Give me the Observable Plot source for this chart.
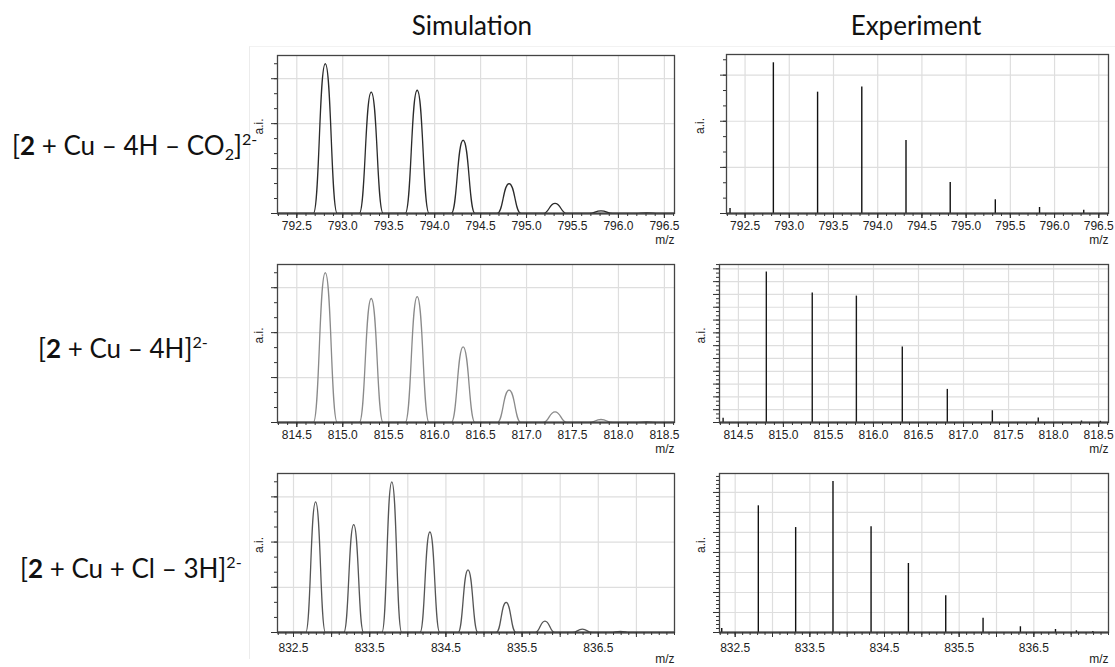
<!DOCTYPE html>
<html>
<head>
<meta charset="utf-8">
<script src="https://cdn.jsdelivr.net/npm/d3@7"></script>
<script src="https://cdn.jsdelivr.net/npm/@observablehq/plot@0.6"></script>
<style>
  html, body { margin: 0; padding: 0; background: #fff; }
  #root { position: relative; width: 1115px; height: 667px; overflow: hidden; background: #fff; }
  .ttl, .rowlab { position: absolute; font-family: Lato, "Open Sans", sans-serif; font-size: 26px; line-height: 26px; color: #111; white-space: nowrap; }
  .ttl { transform: translateX(-50%); }
  .rowlab b { font-weight: 700; }
  .rowlab sup { font-size: 0.62em; position: relative; top: -0.62em; vertical-align: baseline; }
  .rowlab sub { font-size: 0.62em; position: relative; top: 0.32em; vertical-align: baseline; }
  .pnl { position: absolute; }
  .insert { position: absolute; left: 249px; top: 46px; width: 866px; height: 612px; border-left: 1px solid #ececec; border-top: 1px solid #f2f2f2; }
</style>
</head>
<body>
<div id="root"><div class="insert"></div></div>
<script>
// ---------- text ----------
const columnTitles = ["Simulation", "Experiment"];
const rowLabels = [
  '[<b>2</b> + Cu – 4H – CO<sub>2</sub>]<sup>2-</sup>',
  '[<b>2</b> + Cu – 4H]<sup>2-</sup>',
  '[<b>2</b> + Cu + Cl – 3H]<sup>2-</sup>'
];
const xAxisLabel = "m/z";
const yAxisLabel = "a.i.";

// ---------- row 1 : [2 + Cu – 4H – CO2]2- ----------
const row1Domain = [792.29, 796.61];
const row1TickLabels = [792.5, 793.0, 793.5, 794.0, 794.5, 795.0, 795.5, 796.0, 796.5];
const row1SimMz = [792.81, 793.31, 793.81, 794.31, 794.81, 795.31, 795.81, 796.31];
const row1SimIntensity = [100, 81, 82.3, 48.9, 20, 6.7, 1.8, 0.4];
const row1ExpMz = [792.33, 792.82, 793.32, 793.82, 794.32, 794.82, 795.33, 795.83, 796.33];
const row1ExpIntensity = [3.3, 100, 80.5, 84, 48.4, 20.6, 9.1, 4, 2.2];

// ---------- row 2 : [2 + Cu – 4H]2- ----------
const row2Domain = [814.29, 818.61];
const row2TickLabels = [814.5, 815.0, 815.5, 816.0, 816.5, 817.0, 817.5, 818.0, 818.5];
const row2SimMz = [814.81, 815.31, 815.81, 816.31, 816.81, 817.31, 817.81, 818.31];
const row2SimIntensity = [100, 82.8, 84, 50.5, 21.6, 7.1, 2, 0.5];
const row2ExpMz = [814.33, 814.81, 815.32, 815.81, 816.32, 816.82, 817.32, 817.83, 818.31, 818.52];
const row2ExpIntensity = [2.8, 100, 86, 84, 50.2, 22, 7.8, 3.0, 1.0, 0.8];

// ---------- row 3 : [2 + Cu + Cl – 3H]2- ----------
const row3Domain = [832.29, 837.5];
const row3TickLabels = [832.5, 833.5, 834.5, 835.5, 836.5];
const row3GridTicks = [832.5, 833.0, 833.5, 834.0, 834.5, 835.0, 835.5, 836.0, 836.5, 837.0];
const row3SimMz = [832.79, 833.29, 833.79, 834.29, 834.79, 835.29, 835.80, 836.29, 836.79];
const row3SimIntensity = [86.7, 71.6, 100, 66.7, 41.6, 20, 7.6, 2.2, 0.7];
const row3ExpMz = [832.32, 832.81, 833.31, 833.81, 834.32, 834.82, 835.32, 835.82, 836.32, 836.79, 837.07, 837.29];
const row3ExpIntensity = [2.6, 83.9, 69.5, 100, 70, 45.7, 24.3, 9.5, 3.8, 2, 1.1, 0.7];

// ---------- layout ----------
const root = document.getElementById("root");

function addDiv(cls, html, left, top) {
  const d = document.createElement("div");
  d.className = cls;
  d.innerHTML = html;
  d.style.left = left + "px";
  d.style.top = top + "px";
  root.appendChild(d);
}
addDiv("ttl", columnTitles[0], 472, 12);
addDiv("ttl", columnTitles[1], 916, 12);
addDiv("rowlab", rowLabels[0], 12, 132);
addDiv("rowlab", rowLabels[1], 38, 335);
addDiv("rowlab", rowLabels[2], 20, 555);

const fmt = d3.format(".1f");
const peakHalfBase = 0.13; // drawing width of a simulated peak (m/z units)

function spectrumPanel(p) {
  const mL = 40, mR = 14, mT = 10, mB = 45;
  const fw = p.frame.R - p.frame.L, fh = p.frame.B - p.frame.T;
  const minorX = d3.range(Math.ceil(p.domain[0] * 10), Math.floor(p.domain[1] * 10) + 1).map(d => d / 10);
  const nGrid = Math.floor(p.yTop / p.yStep + 1e-6);
  const yGrid = d3.range(0, nGrid + 1).map(i => i * p.yStep);
  const nMinor = Math.floor(p.yTop / p.yMinor + 1e-6);
  const yMinorTicks = d3.range(0, nMinor + 1).map(i => i * p.yMinor);
  const gridX = p.gridTicks || p.tickLabels;

  const dataMarks = [];
  if (p.kind === "sim") {
    const profile = [{x: p.domain[0], y: 0}];
    p.mz.forEach((m, i) => {
      profile.push({x: m - peakHalfBase, y: 0}, {x: m, y: p.intensity[i]}, {x: m + peakHalfBase, y: 0});
    });
    profile.push({x: p.domain[1], y: 0});
    dataMarks.push(Plot.line(profile, {x: "x", y: "y", curve: "bump-x", stroke: p.color, strokeWidth: 1.3, clip: true}));
  } else {
    const sticks = p.mz.map((m, i) => ({x: m, y: p.intensity[i]}));
    dataMarks.push(Plot.ruleX(sticks, {x: "x", y1: 0, y2: "y", stroke: p.color, strokeWidth: 1.4, clip: true}));
  }

  const chart = Plot.plot({
    width: fw + mL + mR,
    height: fh + mT + mB,
    marginLeft: mL, marginRight: mR, marginTop: mT, marginBottom: mB,
    style: {fontFamily: '"Liberation Sans", Arial, sans-serif', fontSize: "12px", color: "#222", background: "transparent", overflow: "visible"},
    x: {domain: p.domain, label: null},
    y: {domain: [0, p.yTop], label: null},
    marks: [
      Plot.gridX(gridX, {stroke: "#dedede", strokeOpacity: 1, strokeWidth: 1.2}),
      Plot.gridY(yGrid.filter(d => d > 0), {stroke: "#dedede", strokeOpacity: 1, strokeWidth: 1.2}),
      ...dataMarks,
      Plot.ruleY([0], {stroke: "#333", strokeWidth: 1.8}),
      Plot.frame({stroke: "#444", strokeWidth: 1.3}),
      Plot.axisX(minorX, {tickSize: 3, stroke: "#333", tickFormat: () => ""}),
      Plot.axisX(gridX, {tickSize: 5, stroke: "#333", tickFormat: () => ""}),
      Plot.axisX(p.tickLabels, {tickSize: 5, tickPadding: p.tickPadding, stroke: "#333", fill: "#222", fontSize: 12, tickFormat: fmt}),
      Plot.axisY(yMinorTicks, {tickSize: 3, stroke: "#333", tickFormat: () => ""}),
      Plot.axisY(yGrid, {tickSize: 6, stroke: "#333", tickFormat: () => ""}),
      Plot.text([xAxisLabel], {frameAnchor: "bottom-right", dy: 30, textAnchor: "end", text: d => d, fontSize: 12, fill: "#222"}),
      Plot.text([yAxisLabel], {frameAnchor: "left", dx: -p.aiOffset, rotate: -90, text: d => d, fontSize: 12, fill: "#222"})
    ]
  });
  chart.classList.add("pnl");
  chart.style.left = (p.frame.L - mL) + "px";
  chart.style.top = (p.frame.T - mT) + "px";
  chart.style.position = "absolute";
  root.appendChild(chart);
}

const simFrames = [
  {L: 277, R: 674, T: 55, B: 213},
  {L: 277, R: 674, T: 264, B: 422},
  {L: 277, R: 674, T: 473, B: 632}
];
const expFrames = [
  {L: 726, R: 1108, T: 54, B: 213},
  {L: 719, R: 1108, T: 264, B: 422},
  {L: 719, R: 1108, T: 473, B: 632}
];

// Row 1
spectrumPanel({kind: "sim", frame: simFrames[0], domain: row1Domain, tickLabels: row1TickLabels, tickPadding: 3,
  mz: row1SimMz, intensity: row1SimIntensity, color: "#2b2b2b", yTop: 105.5, yStep: 30, yMinor: 10, aiOffset: 18});
spectrumPanel({kind: "exp", frame: expFrames[0], domain: row1Domain, tickLabels: row1TickLabels, tickPadding: 3,
  mz: row1ExpMz, intensity: row1ExpIntensity, color: "#111", yTop: 105.5, yStep: 30.6, yMinor: 10.2, aiOffset: 26});
// Row 2
spectrumPanel({kind: "sim", frame: simFrames[1], domain: row2Domain, tickLabels: row2TickLabels, tickPadding: 3,
  mz: row2SimMz, intensity: row2SimIntensity, color: "#8a8a8a", yTop: 105.5, yStep: 30, yMinor: 10, aiOffset: 18});
spectrumPanel({kind: "exp", frame: expFrames[1], domain: row2Domain, tickLabels: row2TickLabels, tickPadding: 3,
  mz: row2ExpMz, intensity: row2ExpIntensity, color: "#1a1a1a", yTop: 105, yStep: 8.51, yMinor: 8.51 / 3, aiOffset: 18});
// Row 3
spectrumPanel({kind: "sim", frame: simFrames[2], domain: row3Domain, tickLabels: row3TickLabels, gridTicks: row3GridTicks, tickPadding: 6,
  mz: row3SimMz, intensity: row3SimIntensity, color: "#555", yTop: 105.5, yStep: 30, yMinor: 10, aiOffset: 18});
spectrumPanel({kind: "exp", frame: expFrames[2], domain: row3Domain, tickLabels: row3TickLabels, gridTicks: row3GridTicks, tickPadding: 6,
  mz: row3ExpMz, intensity: row3ExpIntensity, color: "#111", yTop: 105.3, yStep: 13.25, yMinor: 13.25 / 5, aiOffset: 18});
</script>
</body>
</html>
